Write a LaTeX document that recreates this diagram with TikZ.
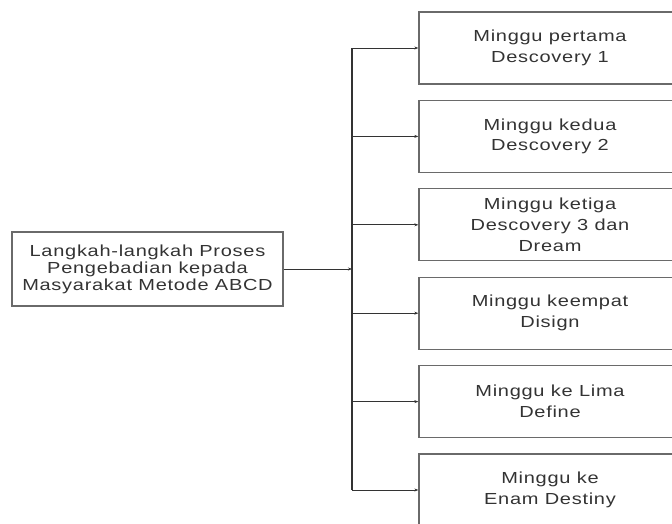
\documentclass[tikz,border=0pt]{standalone}
\usepackage{fontspec}
\setmainfont{Liberation Sans}[FakeStretch=1.25, LetterSpace=4.5]
\usepackage{tikz}
\usetikzlibrary{arrows.meta,positioning}

\definecolor{boxline}{HTML}{6A6A6A}
\definecolor{boxtext}{HTML}{333333}

\tikzset{
  weekbox/.style={draw=boxline, line width=1.3pt, minimum width=262pt, minimum height=72pt,
    align=center, text=boxtext, font=\fontsize{16}{20.7}\selectfont},
  mainbox/.style={draw=boxline, line width=1.3pt, minimum width=271pt, minimum height=74pt,
    align=center, text=boxtext, font=\fontsize{16}{17}\selectfont},
  link/.style={draw=black!80, line width=0.9pt, -{Stealth[length=4pt,width=3pt]}}
}

\begin{document}
\begin{tikzpicture}[x=1pt, y=-1pt]
  \useasboundingbox (0,0) rectangle (672,523);
  \clip (0,0) rectangle (672,523);

  % starting box
  \node[mainbox] (main) at (147.5,269) {Langkah-langkah Proses\\Pengebadian kepada\\Masyarakat Metode ABCD};

  % weekly steps
  \foreach \i/\txt in {0/{Minggu pertama\\Descovery 1},
                       1/{Minggu kedua\\Descovery 2},
                       2/{Minggu ketiga\\Descovery 3 dan\\Dream},
                       3/{Minggu keempat\\Disign},
                       4/{Minggu ke Lima\\Define},
                       5/{Minggu ke\\Enam Destiny}}{
    \node[weekbox] (w\i) at (550,{48+88.4*\i}) {\txt};
  }

  % vertical bar
  \coordinate (bartop) at (352,48);
  \coordinate (barbot) at (352,490);
  \draw[draw=black!80, line width=1.1pt] (bartop) -- (barbot);

  % arrows
  \draw[link] (main.east) -- (main.east -| bartop);
  \foreach \i in {0,...,5}{
    \draw[link] (bartop |- w\i.west) -- (w\i.west);
  }
\end{tikzpicture}
\end{document}
